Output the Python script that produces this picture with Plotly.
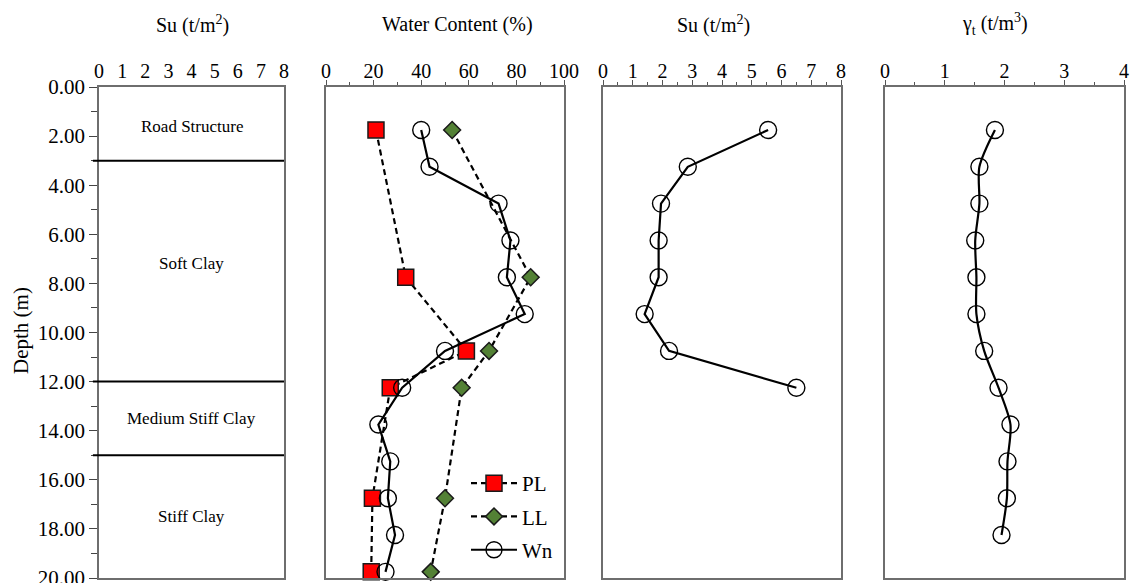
import plotly.graph_objects as go

W, H = 1132, 583

# ---------------- data ----------------
depth_wn = [1.75, 3.25, 4.75, 6.25, 7.75, 9.25, 10.75, 12.25, 13.75, 15.25, 16.75, 18.25, 19.75]
wn = [40, 43.5, 72.5, 77.5, 76, 83.5, 50, 32, 22, 27, 26, 29, 25]

depth_atterberg = [1.75, 7.75, 10.75, 12.25, 16.75, 19.75]
pl = [21, 33.5, 59, 27, 19.5, 19]
ll = [53, 86, 68.5, 57, 50, 44]

depth_su = [1.75, 3.25, 4.75, 6.25, 7.75, 9.25, 10.75, 12.25]
su = [5.55, 2.85, 1.95, 1.87, 1.87, 1.4, 2.22, 6.5]

depth_gamma = [1.75, 3.25, 4.75, 6.25, 7.75, 9.25, 10.75, 12.25, 13.75, 15.25, 16.75, 18.25]
gamma = [1.84, 1.58, 1.58, 1.51, 1.53, 1.53, 1.66, 1.90, 2.10, 2.05, 2.04, 1.95]

layer_bounds = [3, 12, 15]
layer_names = ["Road Structure", "Soft Clay", "Medium Stiff Clay", "Stiff Clay"]
layer_label_depths = [1.6, 7.2, 13.5, 17.5]

panel_titles = ["Su (t/m<sup>2</sup>)", "Water Content (%)", "Su (t/m<sup>2</sup>)",
                "γ<sub>t</sub> (t/m<sup>3</sup>)"]

# ---------------- layout helpers ----------------
def px(x):
    return x / W

def py(y):
    return 1 - y / H

panel_px = [(99, 284), (326, 564), (603, 841), (885, 1124)]
title_cx = [192, 457, 713, 995]
y_dom = [py(578), py(87)]

FONT = "Liberation Serif"
BORDER = "#6e6e6e"

fig = go.Figure()

dash = "6px,4px"

# Panel 2: water content
fig.add_trace(go.Scatter(
    x=pl, y=depth_atterberg, name="PL", mode="lines+markers", xaxis="x2", yaxis="y2",
    line=dict(color="black", width=2.2, dash=dash),
    marker=dict(symbol="square", size=16, color="#ff0000", line=dict(color="#1a1a1a", width=1.5)),
    legendgroup="pl", cliponaxis=False))
fig.add_trace(go.Scatter(
    x=ll, y=depth_atterberg, name="LL", mode="lines+markers", xaxis="x2", yaxis="y2",
    line=dict(color="black", width=2.2, dash=dash),
    marker=dict(symbol="diamond", size=13, color="#538135", line=dict(color="#1a1a1a", width=1.5)),
    legendgroup="ll", cliponaxis=False))
fig.add_trace(go.Scatter(
    x=wn, y=depth_wn, name="Wn", mode="lines+markers", xaxis="x2", yaxis="y2",
    line=dict(color="black", width=2.2),
    marker=dict(symbol="circle-open", size=17, color="black", line=dict(color="black", width=1.4)),
    legendgroup="wn", cliponaxis=False))

# Panel 3: Su
fig.add_trace(go.Scatter(
    x=su, y=depth_su, name="Su", mode="lines+markers", xaxis="x3", yaxis="y3",
    line=dict(color="black", width=2.2),
    marker=dict(symbol="circle-open", size=17, color="black", line=dict(color="black", width=1.4)),
    showlegend=False))

# Panel 4: unit weight
fig.add_trace(go.Scatter(
    x=gamma, y=depth_gamma, name="γt", mode="lines+markers", xaxis="x4", yaxis="y4",
    line=dict(color="black", width=2.2, shape="spline", smoothing=0.8),
    marker=dict(symbol="circle-open", size=17, color="black", line=dict(color="black", width=1.4)),
    showlegend=False))

# Panel 1 dummy (to establish axes)
fig.add_trace(go.Scatter(x=[None], y=[None], xaxis="x", yaxis="y", showlegend=False,
                         hoverinfo="skip"))

tickfont_x = dict(family=FONT, size=20, color="black")
tickfont_y = dict(family=FONT, size=21, color="black")

x_ranges = [[0, 8], [0, 100], [0, 8], [0, 4]]
x_dticks = [1, 20, 1, 1]
x_minor = [None, 10, 0.5, 0.5]

layout = dict(
    width=W, height=H,
    margin=dict(l=0, r=0, t=0, b=0, autoexpand=False),
    paper_bgcolor="white", plot_bgcolor="white",
    showlegend=True,
    legend=dict(x=px(466), y=py(463), xanchor="left", yanchor="top",
                font=dict(family=FONT, size=21, color="black"),
                bgcolor="rgba(0,0,0,0)", tracegroupgap=3, itemwidth=46),
)

for i in range(4):
    n = "" if i == 0 else str(i + 1)
    xa = dict(
        domain=[px(panel_px[i][0]), px(panel_px[i][1])],
        range=x_ranges[i], dtick=x_dticks[i], tick0=0,
        side="top", anchor="y" + n, automargin=False,
        showline=True, linecolor=BORDER, linewidth=1.5, mirror=True,
        showgrid=False, zeroline=False,
        ticks="outside", ticklen=5, tickwidth=1.2, tickcolor="#555",
        tickfont=tickfont_x, ticklabelstandoff=-6, ticklabeloverflow="allow",
    )
    if i == 0:
        xa["tickcolor"] = "rgba(0,0,0,0)"
    if x_minor[i] is not None:
        xa["minor"] = dict(dtick=x_minor[i], ticks="outside", ticklen=3, tickwidth=1.2,
                           tickcolor="#555", showgrid=False)
    ya = dict(
        domain=y_dom, range=[20, 0], anchor="x" + n, automargin=False,
        showline=True, linecolor=BORDER, linewidth=1.5, mirror=True,
        showgrid=False, zeroline=False,
    )
    if i == 0:
        ya.update(dtick=2, tick0=0, tickformat=".2f", ticks="outside", ticklen=8,
                  tickwidth=1.2, tickcolor="#444", tickfont=tickfont_y,
                  ticklabeloverflow="allow",
                  minor=dict(dtick=1, ticks="outside", ticklen=6, tickwidth=1.2,
                             tickcolor="#444", showgrid=False))
    else:
        ya.update(showticklabels=False, ticks="", matches="y")
    layout["xaxis" + n] = xa
    layout["yaxis" + n] = ya

fig.update_layout(**layout)

# layer boundaries in panel 1
for d in layer_bounds:
    fig.add_shape(type="line", xref="x domain", yref="y", x0=-0.033, x1=1, y0=d, y1=d,
                  line=dict(color="black", width=2))

# layer names
for name, d in zip(layer_names, layer_label_depths):
    fig.add_annotation(x=4, y=d, xref="x", yref="y", text=name, showarrow=False,
                       xanchor="center", yanchor="middle",
                       font=dict(family=FONT, size=17, color="black"))

# panel titles
for t, cx in zip(panel_titles, title_cx):
    fig.add_annotation(x=px(cx), y=py(24), xref="paper", yref="paper", text=t,
                       xanchor="center", yanchor="middle",
                       showarrow=False, font=dict(family=FONT, size=20, color="black"))

# depth axis title
fig.add_annotation(x=px(21), y=py(331), xref="paper", yref="paper", text="Depth (m)",
                   textangle=-90, showarrow=False, xanchor="center", yanchor="middle",
                   font=dict(family=FONT, size=21, color="black"))

fig.write_html("out.html", config={"displayModeBar": False},
               post_script="document.body.style.margin='0px';")
